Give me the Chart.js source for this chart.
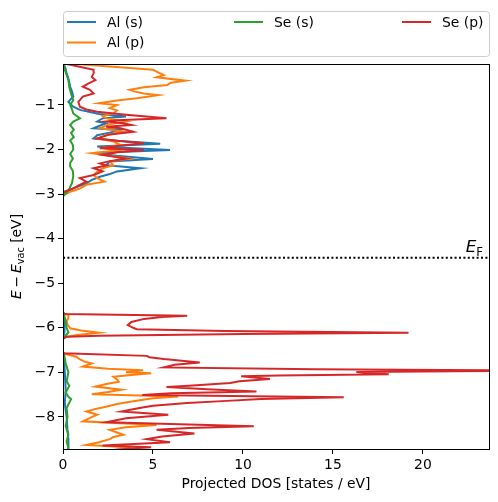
<!DOCTYPE html>
<html>
<head>
<meta charset="utf-8">
<script src="https://cdn.jsdelivr.net/npm/chart.js@4"></script>
<style>
  html, body { margin: 0; padding: 0; background: #fff; }
</style>
</head>
<body>
<canvas id="dosChart" width="498" height="502"></canvas>
<script>
// [energy (eV), projected DOS]
const alS = [[0,0],[-0.08,0.05],[-0.2,0.15],[-0.29,0.2],[-0.4,0.3],[-0.5,0.35],[-0.59,0.4],[-0.7,0.5],[-0.81,0.57],[-0.93,0.3],[-1.04,0.57],[-1.11,0.94],[-1.2,2.0],[-1.26,3.5],[-1.3,2.2],[-1.37,1.9],[-1.41,2.4],[-1.47,2.0],[-1.52,1.7],[-1.56,3.2],[-1.62,2.6],[-1.68,1.9],[-1.75,1.7],[-1.8,3.0],[-1.87,5.4],[-1.93,1.9],[-2.01,5.95],[-2.08,1.7],[-2.14,3.0],[-2.21,5.0],[-2.27,2.6],[-2.35,2.4],[-2.42,4.3],[-2.49,3.0],[-2.55,2.6],[-2.61,2.05],[-2.68,1.6],[-2.76,1.3],[-2.87,0.57],[-2.98,0.1],[-3.05,0],[-5.66,0],[-5.7,0.05],[-5.9,0.1],[-6.1,0.08],[-6.2,0.02],[-6.25,0],[-6.55,0],[-6.6,0.05],[-7.0,0.1],[-7.4,0.15],[-7.7,0.1],[-8.0,0.2],[-8.3,0.25],[-8.5,0.3],[-8.7,0.3],[-8.8,0.2]];

const alP = [[0,0],[-0.06,0],[-0.21,5.0],[-0.29,5.4],[-0.33,5.6],[-0.38,5.2],[-0.455,6.8],[-0.5,6.0],[-0.55,5.8],[-0.6,4.5],[-0.66,3.7],[-0.7,4.0],[-0.74,4.5],[-0.78,5.3],[-0.85,4.1],[-0.9,3.0],[-0.96,2.0],[-1.0,3.0],[-1.07,2.6],[-1.12,3.0],[-1.19,2.8],[-1.25,2.2],[-1.3,2.4],[-1.37,3.5],[-1.43,2.6],[-1.52,2.05],[-1.6,3.35],[-1.68,2.4],[-1.75,1.9],[-1.82,2.8],[-1.9,3.2],[-1.96,2.2],[-2.02,3.0],[-2.08,1.6],[-2.14,2.6],[-2.2,3.7],[-2.27,2.6],[-2.35,2.8],[-2.42,2.2],[-2.5,1.9],[-2.57,1.7],[-2.64,1.9],[-2.72,2.3],[-2.79,1.3],[-2.88,0.9],[-2.95,0.4],[-3.02,0],[-5.66,0],[-5.69,0.1],[-5.71,0.3],[-5.78,0.3],[-5.85,0.2],[-5.93,0.25],[-6.01,0.4],[-6.06,1.0],[-6.11,2.0],[-6.16,0.8],[-6.2,0.2],[-6.24,0],[-6.56,0],[-6.58,0.05],[-6.65,0.75],[-6.7,0.9],[-6.76,1.2],[-6.8,1.6],[-6.87,1.1],[-6.92,2.5],[-6.95,4.45],[-7.0,3.5],[-7.02,4.9],[-7.06,3.8],[-7.1,2.8],[-7.16,3.0],[-7.21,3.1],[-7.26,2.4],[-7.32,1.8],[-7.39,3.25],[-7.44,2.5],[-7.49,1.6],[-7.54,6.4],[-7.58,5.0],[-7.65,3.9],[-7.71,3.0],[-7.77,2.4],[-7.82,1.8],[-7.88,1.3],[-7.95,1.9],[-8.02,1.5],[-8.1,1.1],[-8.18,5.2],[-8.23,3.5],[-8.29,2.6],[-8.35,3.0],[-8.4,3.35],[-8.45,2.8],[-8.5,2.6],[-8.57,2.0],[-8.63,1.3],[-8.68,3.5],[-8.73,4.0],[-8.8,2.0]];

const seS = [[0,0],[-0.06,0],[-0.2,0.1],[-0.44,0.3],[-0.6,0.35],[-0.75,0.45],[-0.89,0.57],[-1.0,0.4],[-1.1,0.5],[-1.19,0.57],[-1.3,0.94],[-1.37,0.57],[-1.45,0.4],[-1.55,0.6],[-1.63,0.45],[-1.72,0.6],[-1.8,0.4],[-1.9,0.55],[-2.0,0.57],[-2.1,0.4],[-2.2,0.55],[-2.3,0.4],[-2.38,0.4],[-2.48,0.55],[-2.6,0.57],[-2.75,0.5],[-2.88,0.35],[-2.97,0.2],[-3.05,0],[-5.66,0],[-5.7,0.05],[-5.85,0.15],[-6.0,0.2],[-6.1,0.3],[-6.2,0.1],[-6.25,0],[-6.56,0],[-6.58,0.05],[-6.8,0.15],[-7.0,0.3],[-7.2,0.2],[-7.3,0.35],[-7.45,0.15],[-7.55,0.3],[-7.6,0.45],[-7.8,0.2],[-8.0,0.25],[-8.2,0.15],[-8.4,0.3],[-8.55,0.2],[-8.7,0.3],[-8.8,0.2]];

const seP = [[0,0],[-0.06,0],[-0.21,1.7],[-0.29,1.7],[-0.37,1.6],[-0.44,1.8],[-0.52,1.4],[-0.59,1.1],[-0.66,1.5],[-0.74,1.7],[-0.81,1.1],[-0.93,0.85],[-1.04,0.94],[-1.1,1.3],[-1.15,1.9],[-1.22,3.5],[-1.3,5.75],[-1.34,3.0],[-1.37,2.4],[-1.41,3.35],[-1.45,3.8],[-1.49,2.4],[-1.52,3.2],[-1.6,3.9],[-1.66,2.6],[-1.75,1.9],[-1.8,3.0],[-1.86,4.5],[-1.92,3.0],[-1.97,2.05],[-2.01,4.5],[-2.06,3.0],[-2.12,2.2],[-2.2,3.5],[-2.26,2.6],[-2.31,2.05],[-2.36,2.4],[-2.42,1.7],[-2.49,2.2],[-2.57,1.7],[-2.64,0.94],[-2.72,1.3],[-2.8,0.9],[-2.87,0.57],[-2.95,0.05],[-3.0,0],[-5.67,0],[-5.69,0.1],[-5.73,6.9],[-5.76,5.5],[-5.8,4.5],[-5.87,3.8],[-5.94,3.6],[-6.0,3.9],[-6.03,4.1],[-6.07,9.0],[-6.11,19.2],[-6.14,10.0],[-6.18,2.0],[-6.2,0.2],[-6.25,0],[-6.55,0],[-6.57,0.05],[-6.63,4.65],[-6.66,4.8],[-6.7,5.6],[-6.78,7.6],[-6.83,6.2],[-6.89,5.6],[-6.93,14.0],[-6.96,26.0],[-6.99,16.3],[-7.02,17.0],[-7.04,18.1],[-7.07,12.0],[-7.09,9.9],[-7.15,11.5],[-7.2,9.8],[-7.24,9.3],[-7.3,7.0],[-7.33,5.75],[-7.38,8.0],[-7.43,10.75],[-7.47,6.0],[-7.51,4.4],[-7.56,15.6],[-7.6,11.0],[-7.64,9.1],[-7.69,6.9],[-7.75,5.0],[-7.8,4.25],[-7.88,3.25],[-7.95,5.85],[-8.03,3.5],[-8.12,2.4],[-8.21,10.6],[-8.25,7.0],[-8.29,5.2],[-8.37,7.3],[-8.44,5.5],[-8.5,4.65],[-8.57,5.95],[-8.64,2.2],[-8.68,4.9],[-8.73,3.0],[-8.8,2.0]];

const seriesLabels = ['Al (s)', 'Al (p)', 'Se (s)', 'Se (p)'];
const seriesColors = ['#1f77b4', '#ff7f0e', '#2ca02c', '#d62728'];
const xTicks = [0, 5, 10, 15, 20];
const yTicks = [-1, -2, -3, -4, -5, -6, -7, -8];
const xMax = 23.67;
const yMin = -8.72, yMax = -0.08;
const fermiLevel = -4.43;

const FONT = 'DejaVu Sans';
const FS = 13.9;

function drawRich(ctx, parts, x, y, size) {
  // parts: [text, italic, sub]
  let w = 0;
  const widths = parts.map(p => {
    ctx.font = (p[1] ? 'italic ' : '') + (p[2] ? size * 0.7 : size) + 'px ' + FONT;
    const m = ctx.measureText(p[0]).width;
    w += m;
    return m;
  });
  let cx = x - w / 2;
  parts.forEach((p, i) => {
    ctx.font = (p[1] ? 'italic ' : '') + (p[2] ? size * 0.7 : size) + 'px ' + FONT;
    ctx.fillText(p[0], cx, y + (p[2] ? size * 0.25 : 0));
    cx += widths[i];
  });
  return w;
}

// zero-DOS stretches are left out so nothing is drawn along the spine there
function toPoints(pairs) {
  const pts = [];
  pairs.forEach(([e, d], i) => {
    if (i > 0 && d === 0 && pairs[i - 1][1] === 0) pts.push({ x: NaN, y: NaN });
    pts.push({ x: d, y: e });
  });
  return pts;
}

const framePlugin = {
  id: 'frame',
  afterDatasetsDraw(chart) {
    const { ctx, chartArea: a } = chart;
    ctx.save();
    ctx.strokeStyle = 'black';
    ctx.lineWidth = 1;
    ctx.strokeRect(a.left + 0.5, a.top + 0.5, a.right - a.left, a.bottom - a.top);
    ctx.restore();
  }
};

const textPlugin = {
  id: 'texts',
  afterDraw(chart) {
    const { ctx, chartArea: a } = chart;
    ctx.save();
    ctx.fillStyle = 'black';
    ctx.textBaseline = 'alphabetic';
    ctx.textAlign = 'left';

    // y axis label
    ctx.save();
    ctx.translate(21, (a.top + a.bottom) / 2);
    ctx.rotate(-Math.PI / 2);
    drawRich(ctx, [['E', true, false], ['\u2009\u2212\u2009', false, false], ['E', true, false], ['vac', false, true], [' [eV]', false, false]], 0, 0, FS);
    ctx.restore();

    // Fermi level label
    const yF = chart.scales.y.getPixelForValue(fermiLevel);
    const big = 16.7;
    ctx.font = 'italic ' + big + 'px ' + FONT;
    const wE = ctx.measureText('E').width;
    ctx.font = (big * 0.7) + 'px ' + FONT;
    const wF = ctx.measureText('F').width;
    drawRich(ctx, [['E', true, false], ['F', false, true]], a.right - 6 - (wE + wF) / 2, yF - 6, big);

    // legend
    const lx = a.left, ly = 11, lw = a.right - a.left, lh = 45;
    ctx.beginPath();
    ctx.roundRect(lx + 0.5, ly + 0.5, lw, lh, 3);
    ctx.fillStyle = 'rgba(255,255,255,0.8)';
    ctx.fill();
    ctx.strokeStyle = '#cccccc';
    ctx.lineWidth = 1;
    ctx.stroke();
    const slots = [[67, 22], [67, 42.5], [234, 22], [402, 22]];
    ctx.font = FS + 'px ' + FONT;
    ctx.textBaseline = 'middle';
    seriesLabels.forEach((lab, i) => {
      const [sx, sy] = slots[i];
      ctx.strokeStyle = seriesColors[i];
      ctx.lineWidth = 2;
      ctx.beginPath();
      ctx.moveTo(sx, sy);
      ctx.lineTo(sx + 29, sy);
      ctx.stroke();
      ctx.fillStyle = 'black';
      ctx.fillText(lab, sx + 40, sy + 1);
    });
    ctx.restore();
  }
};

const seriesData = [alS, alP, seS, seP];
const datasets = seriesData.map((pairs, i) => ({
  label: seriesLabels[i],
  data: toPoints(pairs),
  borderColor: seriesColors[i],
  backgroundColor: seriesColors[i],
  borderWidth: 2,
  showLine: true,
  spanGaps: false,
  pointRadius: 0,
  clip: 0,
  order: 3 - i
}));
datasets.push({
  label: 'E_F',
  data: [{ x: 0, y: fermiLevel }, { x: xMax, y: fermiLevel }],
  borderColor: 'black',
  borderWidth: 2,
  borderDash: [2, 2.4],
  showLine: true,
  pointRadius: 0,
  clip: 0,
  order: -1
});

const tickFont = { family: FONT, size: FS };

new Chart(document.getElementById('dosChart').getContext('2d'), {
  type: 'scatter',
  data: { datasets },
  options: {
    responsive: false,
    animation: false,
    layout: { padding: { top: 64, right: 9, left: 0, bottom: 0 } },
    plugins: { legend: { display: false }, tooltip: { enabled: false } },
    elements: { line: { tension: 0 } },
    scales: {
      x: {
        type: 'linear',
        min: 0,
        max: xMax,
        afterFit(s) { s.height = 53; },
        afterBuildTicks(s) { s.ticks = xTicks.map(v => ({ value: v })); },
        ticks: { color: 'black', font: tickFont, padding: 3, maxRotation: 0, autoSkip: false },
        grid: { drawOnChartArea: false, tickLength: 5, tickColor: 'black' },
        border: { color: 'black' },
        title: {
          display: true,
          text: 'Projected DOS [states / eV]',
          color: 'black',
          font: tickFont,
          padding: { top: 0, bottom: 9 }
        }
      },
      y: {
        type: 'linear',
        min: yMin,
        max: yMax,
        afterFit(s) { s.width = 63; },
        afterBuildTicks(s) { s.ticks = yTicks.map(v => ({ value: v })); },
        ticks: {
          color: 'black',
          font: tickFont,
          padding: 3,
          autoSkip: false,
          callback: v => (v < 0 ? '\u2212' : '') + Math.abs(v)
        },
        grid: { drawOnChartArea: false, tickLength: 5, tickColor: 'black' },
        border: { color: 'black' }
      }
    }
  },
  plugins: [framePlugin, textPlugin]
});
</script>
</body>
</html>
